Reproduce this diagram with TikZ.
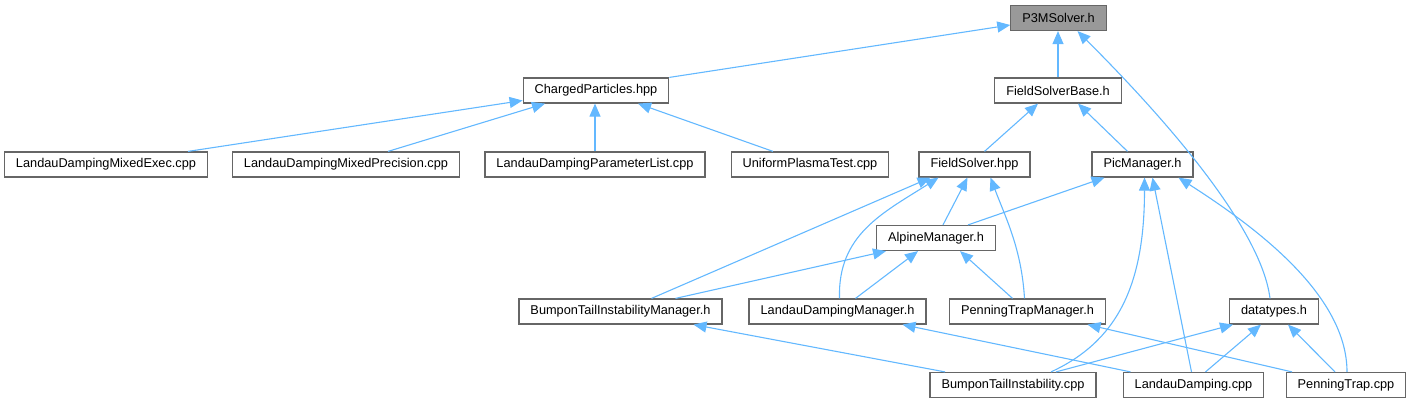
\documentclass[tikz,border=0pt]{standalone}
\usepackage{fontspec}
\setmainfont{Liberation Sans}
\usepackage{tikz}
\usetikzlibrary{arrows.meta,calc}
\definecolor{edgeblue}{RGB}{99, 184, 255}
\definecolor{boxgray}{RGB}{102, 102, 102}
\definecolor{headgray}{RGB}{153, 153, 153}

\begin{document}
\begin{tikzpicture}[x=1pt, y=1pt, >={Triangle[length=13pt, width=11pt]},
    file/.style={draw=boxgray, line width=1.2pt, fill=white, inner xsep=11.5pt,
        minimum height=25pt, font=\fontsize{12.75}{15}\selectfont},
    dep/.style={->, draw=edgeblue, line width=1.1pt}]
    \useasboundingbox (0,0) rectangle (1411,-403);

    % Header being documented
    \node[file, fill=headgray] (P3M) at (1058.5,-18) {P3MSolver.h};

    % Second row
    \node[file] (CP) at (596,-90.5) {ChargedParticles.hpp};
    \node[file] (FSB) at (1058,-90.5) {FieldSolverBase.h};

    % Third row
    \node[file] (Exec) at (106,-164.5) {LandauDampingMixedExec.cpp};
    \node[file] (Prec) at (346,-164.5) {LandauDampingMixedPrecision.cpp};
    \node[file] (Param) at (595,-164.5) {LandauDampingParameterList.cpp};
    \node[file] (Unif) at (810,-164.5) {UniformPlasmaTest.cpp};
    \node[file] (FS) at (974.5,-164.5) {FieldSolver.hpp};
    \node[file] (PM) at (1142.5,-164.5) {PicManager.h};

    % Fourth row
    \node[file] (AM) at (936,-238) {AlpineManager.h};

    % Fifth row
    \node[file] (BTIM) at (620.5,-311.5) {BumponTailInstabilityManager.h};
    \node[file] (LDM) at (837.5,-311.5) {LandauDampingManager.h};
    \node[file] (PTM) at (1027.5,-311.5) {PenningTrapManager.h};
    \node[file] (DT) at (1274,-311.5) {datatypes.h};

    % Bottom row
    \node[file] (BTI) at (1013,-385) {BumponTailInstability.cpp};
    \node[file] (LD) at (1193.5,-385) {LandauDamping.cpp};
    \node[file] (PT) at (1346,-385) {PenningTrap.cpp};

    % Into P3MSolver.h
    \draw[dep] (CP.north east) -- ([yshift=-7pt]P3M.west);
    \draw[dep] (FSB.north) -- (FSB.north |- P3M.south);
    \draw[dep] ([xshift=-4pt]DT.north) .. controls +(-10,80) and +(60,-60) .. ([xshift=19pt]P3M.south);

    % Into ChargedParticles.hpp
    \draw[dep] ([xshift=82pt]Exec.north) -- ([yshift=-10pt]CP.west);
    \draw[dep] ([xshift=42pt]Prec.north) -- ([xshift=-51pt]CP.south);
    \draw[dep] (Param.north) -- (Param.north |- CP.south);
    \draw[dep] ([xshift=-37pt]Unif.north) -- ([xshift=42pt]CP.south);

    % Into FieldSolverBase.h
    \draw[dep] ([xshift=10pt]FS.north) -- ([xshift=-20pt]FSB.south);
    \draw[dep] ([xshift=-15pt]PM.north) -- ([xshift=20pt]FSB.south);

    % Into FieldSolver.hpp
    \draw[dep] ([xshift=7pt]AM.north) -- ([xshift=-7pt]FS.south);
    \draw[dep] ([xshift=31pt]BTIM.north) -- ([xshift=-44pt]FS.south);
    \draw[dep] ([xshift=2pt]LDM.north) .. controls +(-2,64) and +(-55,-35) .. ([xshift=-36pt]FS.south);
    \draw[dep] ([xshift=-3pt]PTM.north) .. controls +(-3,50) and +(15,-40) .. ([xshift=16pt]FS.south);

    % Into PicManager.h
    \draw[dep] ([xshift=32pt]AM.north) -- ([xshift=-38pt]PM.south);
    \draw[dep] ([xshift=38pt]BTI.north) .. controls +(65,30) and +(0,-110) .. ([xshift=2pt]PM.south);
    \draw[dep] ([xshift=-2pt]LD.north) -- ([xshift=10pt]PM.south);
    \draw[dep] ([xshift=1pt]PT.north) .. controls +(0,80) and +(70,-45) .. ([xshift=36pt]PM.south);

    % Into AlpineManager.h
    \draw[dep] ([xshift=55pt]BTIM.north) -- ([xshift=-50pt]AM.south);
    \draw[dep] ([xshift=18pt]LDM.north) -- ([xshift=-18pt]AM.south);
    \draw[dep] ([xshift=-15pt]PTM.north) -- ([xshift=24pt]AM.south);

    % Into the managers
    \draw[dep] ([xshift=-68pt]BTI.north) -- ([xshift=73pt]BTIM.south);
    \draw[dep] ([xshift=-63pt]LD.north) -- ([xshift=65pt]LDM.south);
    \draw[dep] ([xshift=-54pt]PT.north) -- ([xshift=60pt]PTM.south);

    % Into datatypes.h
    \draw[dep] ([xshift=43pt]BTI.north) -- ([xshift=-41pt]DT.south);
    \draw[dep] ([xshift=12pt]LD.north) -- ([xshift=-13pt]DT.south);
    \draw[dep] ([xshift=-11pt]PT.north) -- ([xshift=14pt]DT.south);
\end{tikzpicture}
\end{document}
